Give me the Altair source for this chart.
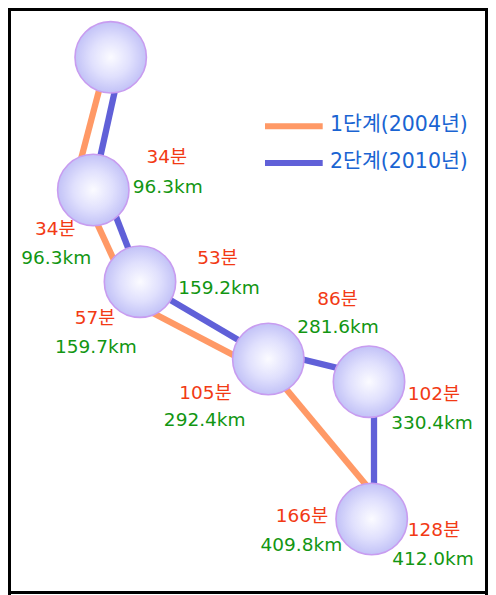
import altair as alt
import pandas as pd

# ---- data (screen-pixel coordinates) ----
node_x = [110.7, 93.3, 140.0, 268.3, 369.0, 371.7]
node_y = [57.3, 190.0, 281.7, 359.0, 381.7, 519.0]

stage_names = ["1단계(2004년)", "2단계(2010년)"]

# stage 1 segments (x1, y1, x2, y2)
s1_x1 = [107.8, 81.7, 140.0, 268.0]
s1_y1 = [57.0, 190.0, 306.3, 367.3]
s1_x2 = [72.9, 124.0, 268.0, 394.4]
s1_y2 = [190.0, 282.0, 373.1, 519.0]

# stage 2 segments
s2_x1 = [122.3, 105.7, 140.0, 268.0, 374.0]
s2_y1 = [57.3, 190.0, 282.1, 351.0, 381.7]
s2_x2 = [92.9, 141.3, 268.0, 369.0, 374.0]
s2_y2 = [190.0, 282.0, 357.5, 375.6, 519.0]

red_text = ["34분", "34분", "53분", "57분", "86분", "105분", "102분", "166분", "128분"]
red_x = [166.7, 55.3, 217.5, 95.0, 337.5, 205.5, 433.8, 302.0, 434.0]
red_y = [157.0, 229.0, 257.5, 317.5, 299.0, 392.5, 394.0, 516.0, 529.7]

green_text = ["96.3km", "96.3km", "159.2km", "159.7km", "281.6km",
              "292.4km", "330.4km", "409.8km", "412.0km"]
green_x = [167.7, 56.3, 219.0, 95.8, 338.0, 204.7, 432.0, 301.3, 433.0]
green_y = [187.0, 258.0, 288.0, 346.5, 326.7, 420.0, 423.3, 545.0, 558.7]

legend_line_x1 = [265.0, 265.0]
legend_line_x2 = [322.7, 322.7]
legend_line_y = [126.3, 163.0]
legend_text_x = [330.0, 330.0]
legend_text_y = [124.5, 161.5]

W, H = 480, 587

# ---- tables ----
seg_df = pd.DataFrame({
    "x": s1_x1 + s2_x1, "y": s1_y1 + s2_y1,
    "x2": s1_x2 + s2_x2, "y2": s1_y2 + s2_y2,
    "stage": [stage_names[0]] * len(s1_x1) + [stage_names[1]] * len(s2_x1),
})
node_df = pd.DataFrame({"x": node_x, "y": node_y})
red_df = pd.DataFrame({"x": red_x, "y": red_y, "t": red_text})
green_df = pd.DataFrame({"x": green_x, "y": green_y, "t": green_text})
leg_df = pd.DataFrame({"x": legend_line_x1, "x2": legend_line_x2, "y": legend_line_y,
                       "tx": legend_text_x, "ty": legend_text_y, "stage": stage_names})
bot = 592.5
right = 8 + W - 1.5
border_df = pd.DataFrame({"x": [8, 9.5, 8, right], "x2": [8 + W, 9.5, 8 + W, right],
                          "y": [9.5, 8, bot, 8], "y2": [9.5, bot + 1.5, bot, bot + 1.5]})

xs = alt.Scale(domain=[8, 8 + W], nice=False, zero=False)
ys = alt.Scale(domain=[8, 8 + H], nice=False, zero=False, reverse=True)
cs = alt.Scale(domain=stage_names, range=["#ff9966", "#6060d8"])
FONT = "DejaVu Sans, Noto Sans CJK KR, sans-serif"

border = alt.Chart(border_df).mark_rule(color="black", strokeWidth=3, strokeCap="square").encode(
    x=alt.X("x:Q", scale=xs, axis=None), x2="x2:Q",
    y=alt.Y("y:Q", scale=ys, axis=None), y2="y2:Q")

segs = alt.Chart(seg_df).mark_rule(strokeWidth=6.3, strokeCap="butt").encode(
    x=alt.X("x:Q", scale=xs, axis=None), x2="x2:Q",
    y=alt.Y("y:Q", scale=ys, axis=None), y2="y2:Q",
    color=alt.Color("stage:N", scale=cs, legend=None))

grad = alt.Gradient(
    gradient="radial",
    stops=[alt.GradientStop(offset=0, color="#fbfbff"),
           alt.GradientStop(offset=0.55, color="#e0e0fd"),
           alt.GradientStop(offset=1, color="#c2c2f7")],
    x1=0.5, y1=0.5, r1=0, x2=0.5, y2=0.5, r2=0.5)

nodes = alt.Chart(node_df).mark_point(shape="circle", filled=True, size=5100, fill=grad,
                                      stroke="#c89cf0", strokeWidth=1.6, opacity=1).encode(
    x=alt.X("x:Q", scale=xs, axis=None), y=alt.Y("y:Q", scale=ys, axis=None))

red = alt.Chart(red_df).mark_text(font=FONT, fontSize=18.5, color="#f23a14",
                                  align="center", baseline="middle").encode(
    x=alt.X("x:Q", scale=xs, axis=None), y=alt.Y("y:Q", scale=ys, axis=None), text="t:N")

green = alt.Chart(green_df).mark_text(font=FONT, fontSize=18.5, color="#129612",
                                      align="center", baseline="middle").encode(
    x=alt.X("x:Q", scale=xs, axis=None), y=alt.Y("y:Q", scale=ys, axis=None), text="t:N")

leg_lines = alt.Chart(leg_df).mark_rule(strokeWidth=6, strokeCap="butt").encode(
    x=alt.X("x:Q", scale=xs, axis=None), x2="x2:Q",
    y=alt.Y("y:Q", scale=ys, axis=None),
    color=alt.Color("stage:N", scale=cs, legend=None))

leg_text = alt.Chart(leg_df).mark_text(font=FONT, fontSize=20.5, color="#1a64d2",
                                       align="left", baseline="middle").encode(
    x=alt.X("tx:Q", scale=xs, axis=None), y=alt.Y("ty:Q", scale=ys, axis=None), text="stage:N")

chart = alt.layer(border, segs, nodes, red, green, leg_lines, leg_text).properties(
    width=W, height=H, padding=0, background="white",
    autosize=alt.AutoSizeParams(type="none"),
).configure_view(stroke="transparent", strokeWidth=0)

chart.save("out.html", embed_options={"renderer": "svg", "actions": False})
